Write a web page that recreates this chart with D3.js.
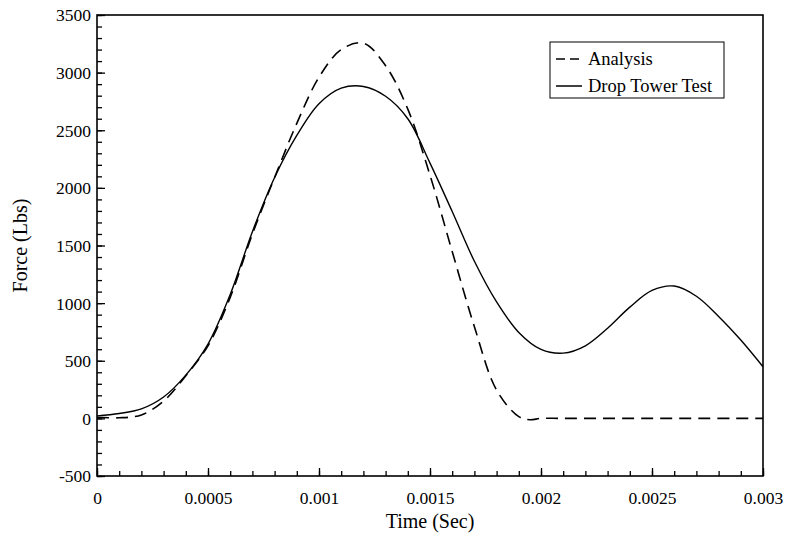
<!DOCTYPE html>
<html>
<head>
<meta charset="utf-8">
<script src="https://cdn.jsdelivr.net/npm/d3@7"></script>
<style>
  body { margin: 0; background: #fff; }
  svg { display: block; }
  text { font-family: "Liberation Serif", "Times New Roman", serif; fill: #000; }
</style>
</head>
<body>
<svg id="chart" width="787" height="536"></svg>
<script>
// ---- Data ----
const testTime  = [0, 0.0001, 0.0002, 0.0003, 0.0004, 0.0005, 0.0006, 0.0007, 0.0008, 0.0009, 0.001, 0.0011, 0.0012, 0.0013, 0.0014, 0.0015, 0.0016, 0.0017, 0.0018, 0.0019, 0.002, 0.0021, 0.0022, 0.0023, 0.0024, 0.0025, 0.0026, 0.0027, 0.0028, 0.0029, 0.003];
const testForce = [22, 42, 82, 185, 375, 645, 1075, 1620, 2090, 2455, 2730, 2865, 2880, 2795, 2600, 2215, 1795, 1363, 1010, 745, 598, 566, 630, 782, 965, 1110, 1148, 1060, 885, 680, 448];

const analysisTime  = [0, 0.0001, 0.0002, 0.0003, 0.0004, 0.0005, 0.0006, 0.0007, 0.0008, 0.0009, 0.001, 0.0011, 0.0012, 0.0013, 0.0014, 0.0015, 0.0016, 0.0017, 0.0018, 0.0019, 0.00195, 0.002, 0.0021, 0.003];
const analysisForce = [10, 5, 30, 150, 370, 630, 1050, 1600, 2090, 2560, 2960, 3200, 3255, 3060, 2683, 2110, 1448, 795, 245, 15, -12, 0, 0, 0];

const xMajorTicks = [0, 0.0005, 0.001, 0.0015, 0.002, 0.0025, 0.003];
const xTickLabels = ["0", "0.0005", "0.001", "0.0015", "0.002", "0.0025", "0.003"];
const yMajorTicks = [-500, 0, 500, 1000, 1500, 2000, 2500, 3000, 3500];
const yTickLabels = ["-500", "0", "500", "1000", "1500", "2000", "2500", "3000", "3500"];
const seriesNames = ["Analysis", "Drop Tower Test"];

// ---- Layout ----
const svg = d3.select("#chart");
const L = 97, R = 763, T = 15, B = 476;

const x = d3.scaleLinear().domain([0, 0.003]).range([L, R]);
const y = d3.scaleLinear().domain([-500, 3500]).range([B, T]);

const xMinor = d3.range(0, 31).map(i => i * 0.0001);
const yMinor = d3.range(-5, 36).map(i => i * 100);

// minor ticks
svg.append("g").attr("transform", `translate(0,${B})`)
  .call(d3.axisBottom(x).tickValues(xMinor).tickSizeInner(-5).tickSizeOuter(0).tickFormat(""))
  .call(g => g.select(".domain").remove())
  .call(g => g.selectAll("line").attr("stroke", "#000").attr("stroke-width", 1.3));
svg.append("g").attr("transform", `translate(${L},0)`)
  .call(d3.axisLeft(y).tickValues(yMinor).tickSizeInner(-5).tickSizeOuter(0).tickFormat(""))
  .call(g => g.select(".domain").remove())
  .call(g => g.selectAll("line").attr("stroke", "#000").attr("stroke-width", 1.3));

// major ticks with labels
svg.append("g").attr("transform", `translate(0,${B})`)
  .call(d3.axisBottom(x).tickValues(xMajorTicks).tickSizeInner(-8).tickSizeOuter(0)
    .tickPadding(0).tickFormat((d, i) => xTickLabels[i]))
  .call(g => g.select(".domain").remove())
  .call(g => g.selectAll("line").attr("stroke", "#000").attr("stroke-width", 1.3))
  .call(g => g.selectAll("text").attr("y", 28).attr("dy", null)
    .style("font-family", '"Liberation Serif", serif').style("font-size", "17.5px").attr("fill", "#000"));

svg.append("g").attr("transform", `translate(${L},0)`)
  .call(d3.axisLeft(y).tickValues(yMajorTicks).tickSizeInner(-8).tickSizeOuter(0)
    .tickPadding(0).tickFormat((d, i) => yTickLabels[i]))
  .call(g => g.select(".domain").remove())
  .call(g => g.selectAll("line").attr("stroke", "#000").attr("stroke-width", 1.3))
  .call(g => g.selectAll("text").attr("x", -6).attr("dy", "0.34em")
    .style("font-family", '"Liberation Serif", serif').style("font-size", "17.5px").attr("fill", "#000"));

// frame
svg.append("rect").attr("x", L).attr("y", T).attr("width", R - L).attr("height", B - T)
  .attr("fill", "none").attr("stroke", "#000").attr("stroke-width", 1.6);

// lines
const lineSmooth = d3.line().x(d => x(d[0])).y(d => y(d[1])).curve(d3.curveCatmullRom.alpha(0.5));
const testData = testTime.map((t, i) => [t, testForce[i]]);
const analysisData = analysisTime.map((t, i) => [t, analysisForce[i]]);

svg.append("path").datum(testData).attr("d", lineSmooth)
  .attr("fill", "none").attr("stroke", "#000").attr("stroke-width", 1.4);
svg.append("path").datum(analysisData).attr("d", lineSmooth)
  .attr("fill", "none").attr("stroke", "#000").attr("stroke-width", 1.6)
  .attr("stroke-dasharray", "12,7");

// axis titles
svg.append("text").attr("x", (L + R) / 2).attr("y", 528).attr("text-anchor", "middle")
  .style("font-size", "20px").text("Time (Sec)");
svg.append("text").attr("transform", `translate(27,${(T + B) / 2}) rotate(-90)`)
  .attr("text-anchor", "middle").style("font-size", "20px").text("Force (Lbs)");

// legend
const lg = svg.append("g");
lg.append("rect").attr("x", 550).attr("y", 42).attr("width", 174).attr("height", 56)
  .attr("fill", "#fff").attr("stroke", "#000").attr("stroke-width", 1);
const rows = [{ y: 59, dash: "9,5" }, { y: 86, dash: null }];
rows.forEach((r, i) => {
  lg.append("line").attr("x1", 556).attr("x2", 582).attr("y1", r.y).attr("y2", r.y)
    .attr("stroke", "#000").attr("stroke-width", 1.5)
    .attr("stroke-dasharray", r.dash);
  lg.append("text").attr("x", 588).attr("y", r.y).attr("dy", "0.34em")
    .style("font-size", "18.5px").text(seriesNames[i]);
});
</script>
</body>
</html>
